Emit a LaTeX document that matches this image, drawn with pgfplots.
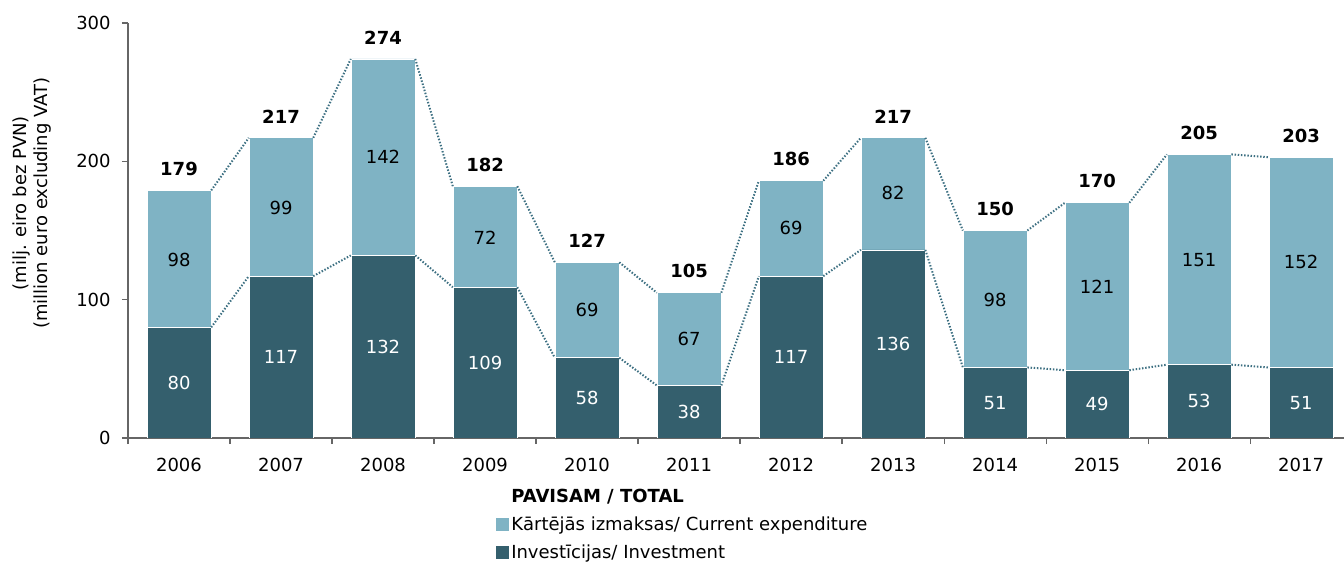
\documentclass[border=0pt]{standalone}
\usepackage{fontspec}
\setmainfont{DejaVu Sans}
\usepackage{pgfplots}
\usepackage{pgfplotstable}
\pgfplotsset{compat=1.18}
\definecolor{darkb}{HTML}{345F6D}
\definecolor{lightb}{HTML}{7FB3C4}
\definecolor{dotc}{HTML}{3D7082}
\definecolor{axc}{HTML}{666666}
\pgfplotstableread{
x inv cur tot
0 80 98 179
1 117 99 217
2 132 142 274
3 109 72 182
4 58 69 127
5 38 67 105
6 117 69 186
7 136 82 217
8 51 98 150
9 49 121 170
10 53 151 205
11 51 152 203
}\data
\newcommand{\fs}{\fontsize{13.5}{16}\selectfont}
\begin{document}
\begin{tikzpicture}
\useasboundingbox (-96pt,-93.75pt) rectangle (912pt,328.5pt);
\begin{axis}[
  at={(0,0)}, anchor=south west,
  scale only axis, width=918.1pt, height=311.25pt,
  xmin=-0.5, xmax=11.5, ymin=0, ymax=300,
  unbounded coords=jump,
  axis lines=left, axis line style={axc, line width=0.9pt, -},
  xtick={-0.5,0.5,...,11.5},
  x tick label as interval,
  xticklabels={2006,2007,2008,2009,2010,2011,2012,2013,2014,2015,2016,2017},
  ytick={0,100,200,300},
  tick style={axc, line width=0.9pt},
  tick align=outside, major tick length=4.5pt,
  /pgf/number format/assume math mode=true,
  tick label style={font=\fs},
  xticklabel style={yshift=-6.8pt},
  yticklabel style={xshift=-5pt},
  ylabel={(milj. eiro bez PVN)\\(million euro excluding VAT)},
  ylabel style={font=\fs, align=center, at={(rel axis cs:-0.0785,0.566)}, anchor=center},
  legend style={draw=none, fill=none, at={(rel axis cs:0.2998,-0.119)}, anchor=north west,
    inner sep=0pt, row sep=7.2pt, font=\fs, nodes={inner xsep=1.5pt, inner ysep=1pt}},
  legend cell align=left,
  legend image code/.code={\fill[#1] (0pt,-5pt) rectangle (10pt,5pt);},
]
\addlegendimage{empty legend}
\addlegendentry{\textbf{PAVISAM / TOTAL}}
\addplot[ybar, bar width=48pt, bar shift=0pt, fill=lightb, draw=white, line width=0.5pt] table[x=x, y=tot] {\data};
\addlegendentry{Kārtējās izmaksas/ Current expenditure}
\addplot[ybar, bar width=48pt, bar shift=0pt, fill=darkb, draw=white, line width=0.5pt] table[x=x, y=inv] {\data};
\addlegendentry{Investīcijas/ Investment}
% dotted connectors
\addplot[dotc, line width=1.5pt, dash pattern=on 1.1pt off 1.3pt, forget plot] coordinates {
(0.316,179)(0.684,217) (1,nan) (1.316,217)(1.684,274) (2,nan) (2.316,274)(2.684,182) (3,nan)
(3.316,182)(3.684,127) (4,nan) (4.316,127)(4.684,105) (5,nan) (5.316,105)(5.684,186) (6,nan)
(6.316,186)(6.684,217) (7,nan) (7.316,217)(7.684,150) (8,nan) (8.316,150)(8.684,170) (9,nan)
(9.316,170)(9.684,205) (10,nan) (10.316,205)(10.684,203)};
\addplot[dotc, line width=1.5pt, dash pattern=on 1.1pt off 1.3pt, forget plot] coordinates {
(0.316,80)(0.684,117) (1,nan) (1.316,117)(1.684,132) (2,nan) (2.316,132)(2.684,109) (3,nan)
(3.316,109)(3.684,58) (4,nan) (4.316,58)(4.684,38) (5,nan) (5.316,38)(5.684,117) (6,nan)
(6.316,117)(6.684,136) (7,nan) (7.316,136)(7.684,51) (8,nan) (8.316,51)(8.684,49) (9,nan)
(9.316,49)(9.684,53) (10,nan) (10.316,53)(10.684,51)};
% labels
\addplot[draw=none, mark=none, forget plot, nodes near coords, point meta=explicit symbolic,
  every node near coord/.style={anchor=center, font=\fs, text=white}]
  table[x=x, y expr=\thisrow{inv}/2, meta=inv] {\data};
\addplot[draw=none, mark=none, forget plot, nodes near coords, point meta=explicit symbolic,
  every node near coord/.style={anchor=center, font=\fs, text=black}]
  table[x=x, y expr=\thisrow{inv}+\thisrow{cur}/2, meta=cur] {\data};
\addplot[draw=none, mark=none, forget plot, nodes near coords, point meta=explicit symbolic,
  every node near coord/.style={anchor=south, yshift=7.5pt, font=\fs\bfseries, text=black}]
  table[x=x, y=tot, meta=tot] {\data};
\end{axis}
\end{tikzpicture}
\end{document}
